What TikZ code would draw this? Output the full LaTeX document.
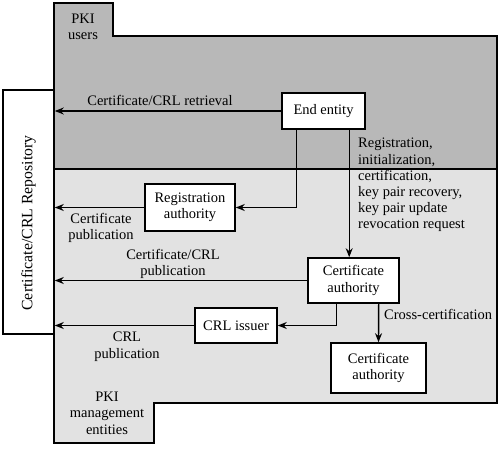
\documentclass[tikz,border=0pt]{standalone}
\usepackage{fontspec}
\setmainfont{Liberation Serif}
\usetikzlibrary{arrows.meta,calc}
\definecolor{darkreg}{gray}{0.72}
\definecolor{lightreg}{gray}{0.885}
\begin{document}
\begin{tikzpicture}[x=1pt,y=-1pt,
  txt/.style={font=\fontsize{14.5}{16.2}\selectfont},
  box/.style={txt, draw, fill=white, line width=1.6pt, align=center, inner sep=0pt},
  lbl/.style={txt, align=center, inner sep=0pt},
  arr/.style={line width=1.4pt, -{Stealth[length=9pt,width=7pt]}},
  ln/.style={line width=1.4pt}]
\useasboundingbox (0,0) rectangle (500,458);
% regions
\fill[darkreg] (54,3) -- (113,3) -- (113,36) -- (497,36) -- (497,169) -- (54,169) -- cycle;
\fill[lightreg] (54,169) -- (497,169) -- (497,403) -- (154,403) -- (154,443) -- (54,443) -- cycle;
\draw[line width=1.6pt] (54,3) -- (113,3) -- (113,36) -- (497,36) -- (497,403) -- (154,403) -- (154,443) -- (54,443) -- cycle;
\draw[line width=1.4pt] (54,169) -- (497,169);
% repository
\node[box, minimum width=51pt, minimum height=244pt] (repo) at (28.5,212) {};
\node[lbl, rotate=90, font=\fontsize{15.8}{18}\selectfont] (repotxt) at (28.5,223) {Certificate/CRL Repository};
% boxes
\node[box, minimum width=83pt, minimum height=36pt] (ee) at (323.5,111) {End entity};
\node[box, minimum width=90pt, minimum height=47pt] (ra) at (190,207.5) {Registration\\authority};
\node[box, minimum width=91pt, minimum height=45pt] (ca1) at (353.5,280.5) {Certificate\\authority};
\node[box, minimum width=82pt, minimum height=35pt] (crl) at (236,325.5) {CRL issuer};
\node[box, minimum width=95pt, minimum height=50pt] (ca2) at (378.5,368) {Certificate\\authority};
% connectors
\draw[arr] (ee.west) -- (ee.west -| repo.east);
\draw[arr] ($(ee.south west)+(15,0)$) |- (ra.east);
\draw[arr] ($(ee.south west)+(68,0)$) -- ($(ca1.north west)+(42,0)$);
\draw[arr] (ra.west) -- (ra.west -| repo.east);
\draw[arr] (ca1.west) -- (ca1.west -| repo.east);
\draw[arr] (crl.west) -- (crl.west -| repo.east);
\draw[arr] ($(ca1.south west)+(29,0)$) |- (crl.east);
\draw[arr] ($(ca1.south west)+(71.5,0)$) -- (ca2.north);
% labels
\node[lbl, anchor=north] (lusers) at (83,14) {PKI\\users};
\node[lbl, anchor=north] (lmgmt) at (107,392) {PKI\\management\\entities};
\node[lbl, anchor=base] (lret) at (160,105) {Certificate/CRL retrieval};
\node[lbl, anchor=north west, align=left] (lreg) at (358,138) {Registration,\\initialization,\\certification,\\key pair recovery,\\key pair update\\revocation request};
\node[lbl, anchor=north] (lcp) at (101,213) {Certificate\\publication};
\node[lbl, anchor=north] (lccp) at (173,249) {Certificate/CRL\\publication};
\node[lbl, anchor=north] (lcrlp) at (127,332) {CRL\\publication};
\node[lbl, anchor=west] (lcross) at (384,314) {Cross-certification};
\end{tikzpicture}
\end{document}
